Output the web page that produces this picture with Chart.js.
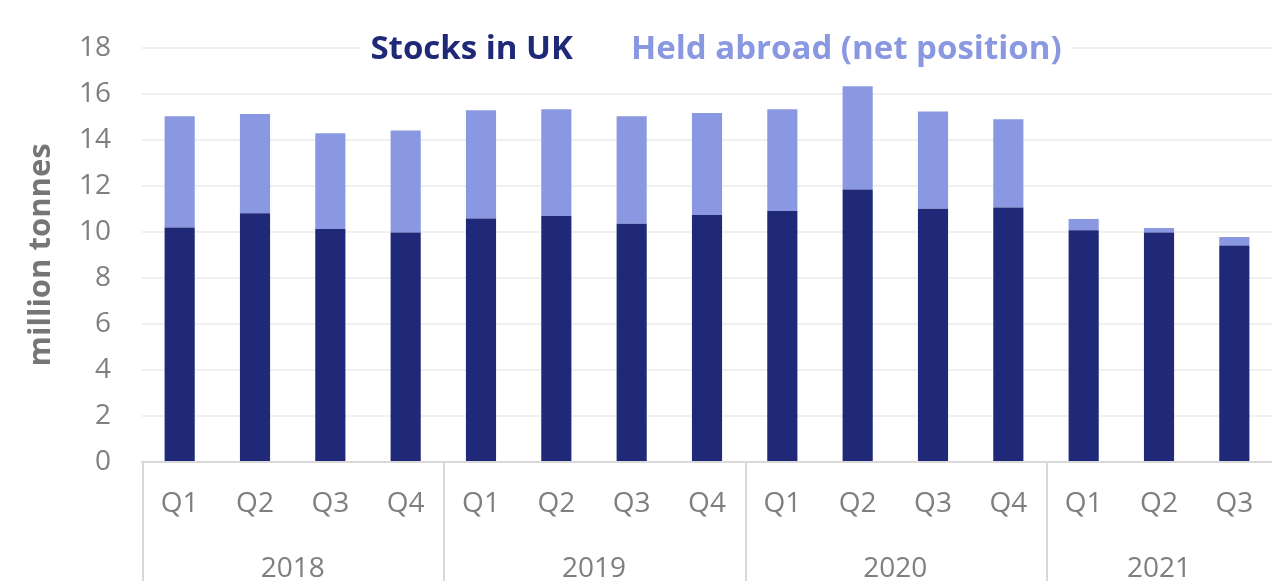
<!DOCTYPE html>
<html>
<head>
<meta charset="utf-8">
<script src="https://cdn.jsdelivr.net/npm/chart.js@4.4.1/dist/chart.umd.min.js"></script>
<style>
    body { margin: 0; background: #ffffff; }
    #wrap { position: relative; width: 1272px; height: 581px; }
</style>
</head>
<body>
<div id="wrap"><canvas id="stocksChart"></canvas></div>
<script>
var quarters = ['Q1', 'Q2', 'Q3', 'Q4', 'Q1', 'Q2', 'Q3', 'Q4', 'Q1', 'Q2', 'Q3', 'Q4', 'Q1', 'Q2', 'Q3'];
var quarterYears = ['2018', '2018', '2018', '2018', '2019', '2019', '2019', '2019', '2020', '2020', '2020', '2020', '2021', '2021', '2021'];
var years = ['2018', '2019', '2020', '2021'];

var stocksInUk = [10.19, 10.81, 10.13, 9.97, 10.58, 10.69, 10.35, 10.73, 10.91, 11.84, 11.01, 11.06, 10.07, 9.97, 9.41];
var heldAbroad = [4.83, 4.31, 4.16, 4.44, 4.71, 4.64, 4.67, 4.44, 4.42, 4.49, 4.22, 3.83, 0.49, 0.20, 0.37];

var yTicks = [0, 2, 4, 6, 8, 10, 12, 14, 16, 18];

var navy = '#1f2977';
var lightBlue = '#8a98e2';
var grey = '#7f7f7f';
var fontFamily = "'Open Sans', sans-serif";

// first index and centre of each year group, worked out from quarterYears
function yearGroups() {
    var groups = [];
    for (let i = 0; i < years.length; i++) {
        var first = quarterYears.indexOf(years[i]);
        var last = quarterYears.lastIndexOf(years[i]);
        groups.push({ first: first, last: last, centre: (first + last) / 2 });
    }
    return groups;
}

// separator lines under the axis, between the year groups
var yearSeparators = {
    id: 'yearSeparators',
    afterDraw: function (chart) {
        var ctx = chart.ctx;
        var x = chart.scales.x;
        var half = (x.getPixelForValue(1) - x.getPixelForValue(0)) / 2;
        var bottom = chart.chartArea.bottom;
        ctx.save();
        ctx.strokeStyle = '#d9d9d9';
        ctx.lineWidth = 2;
        yearGroups().forEach(function (g) {
            var px = Math.round(x.getPixelForValue(g.first) - half) + 1;
            ctx.beginPath();
            ctx.moveTo(px, bottom);
            ctx.lineTo(px, chart.height);
            ctx.stroke();
        });
        ctx.restore();
    }
};

// legend drawn as coloured text over the top gridline
var textLegend = {
    id: 'textLegend',
    afterDraw: function (chart) {
        var ctx = chart.ctx;
        var area = chart.chartArea;
        var sets = chart.data.datasets;
        var gap = 58;
        ctx.save();
        ctx.font = 'bold 33px ' + fontFamily;
        var widths = sets.map(function (d) { return ctx.measureText(d.label).width; });
        var total = widths.reduce(function (a, b) { return a + b; }, 0) + gap * (sets.length - 1);
        var x = (area.left + area.right) / 2 - total / 2 + 9;
        var baseline = area.top + 11;
        ctx.fillStyle = '#ffffff';
        ctx.fillRect(x - 10, area.top - 14, total + 20, 30);
        ctx.textBaseline = 'alphabetic';
        ctx.textAlign = 'left';
        for (let i = 0; i < sets.length; i++) {
            ctx.fillStyle = sets[i].backgroundColor;
            ctx.fillText(sets[i].label, x, baseline);
            x += widths[i] + gap;
        }
        ctx.restore();
    }
};

const ctx = document.getElementById('stocksChart');

const stocksChart = new Chart(ctx, {
    type: 'bar',
    data: {
        labels: quarters,
        datasets: [{
            label: 'Stocks in UK',
            data: stocksInUk,
            backgroundColor: navy,
            borderWidth: 0,
            barPercentage: 0.4,
            categoryPercentage: 1
        }, {
            label: 'Held abroad (net position)',
            data: heldAbroad,
            backgroundColor: lightBlue,
            borderWidth: 0,
            barPercentage: 0.4,
            categoryPercentage: 1
        }]
    },
    options: {
        responsive: true,
        maintainAspectRatio: false,
        animation: false,
        layout: {
            padding: { top: 45, right: 0, left: 0, bottom: 0 }
        },
        plugins: {
            legend: { display: false },
            tooltip: { enabled: false }
        },
        scales: {
            x: {
                stacked: true,
                offset: true,
                grid: { display: false },
                border: { display: true, color: '#d9d9d9', width: 2 },
                ticks: {
                    color: grey,
                    padding: 17,
                    font: { family: fontFamily, size: 28 },
                    maxRotation: 0,
                    autoSkip: false
                },
                afterFit: function (scale) { scale.height = 60; }
            },
            x2: {
                type: 'linear',
                position: 'bottom',
                weight: 1,
                offset: false,
                min: -0.5,
                max: quarters.length - 0.5,
                grid: { display: false, offset: false },
                border: { display: false },
                afterBuildTicks: function (scale) {
                    scale.ticks = yearGroups().map(function (g) { return { value: g.centre }; });
                },
                ticks: {
                    color: grey,
                    padding: 22,
                    autoSkip: false,
                    maxRotation: 0,
                    font: { family: fontFamily, size: 28 },
                    callback: function (value, index) { return years[index]; }
                },
                afterFit: function (scale) { scale.height = 59; }
            },
            y: {
                stacked: true,
                min: 0,
                max: 18,
                afterBuildTicks: function (scale) {
                    scale.ticks = yTicks.map(function (v) { return { value: v }; });
                },
                grid: { color: '#f0f0f0', lineWidth: 2, drawTicks: false },
                border: { display: false },
                ticks: {
                    color: grey,
                    padding: 31,
                    font: { family: fontFamily, size: 28 }
                },
                title: {
                    display: true,
                    text: 'million tonnes',
                    color: '#767676',
                    padding: { top: 23, bottom: 0 },
                    font: { family: fontFamily, size: 31, weight: 'bold' }
                },
                afterFit: function (scale) { scale.width = 142; }
            }
        }
    },
    plugins: [yearSeparators, textLegend]
});
</script>
</body>
</html>
